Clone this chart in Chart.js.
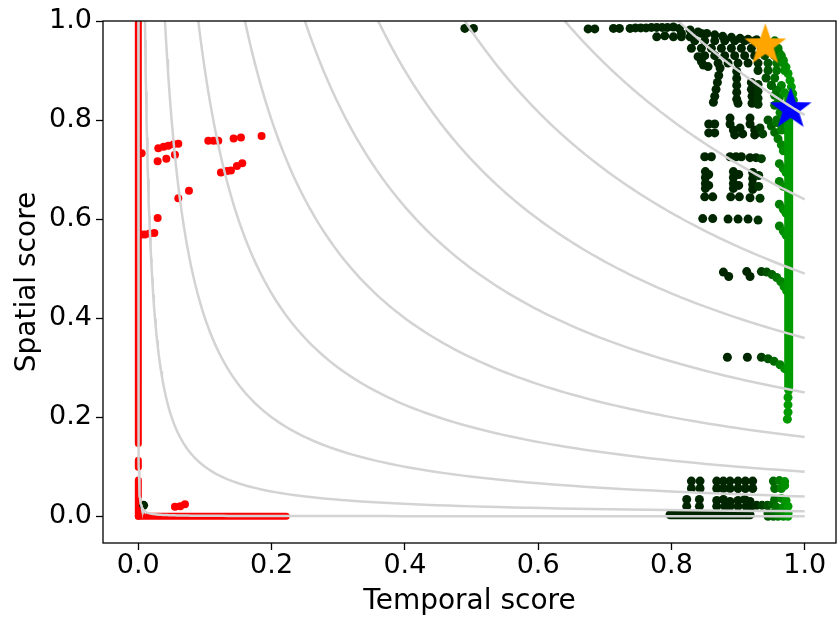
<!DOCTYPE html>
<html>
<head>
<meta charset="utf-8">
<title>Temporal vs spatial score</title>
<script src="https://cdn.jsdelivr.net/npm/chart.js"></script>
<style>
  html, body { margin: 0; background: #fff; }
  canvas { display: block; }
</style>
</head>
<body>
<canvas id="myChart" width="837" height="619"></canvas>
<script>
// axis ticks
var xTicks = [0.0, 0.2, 0.4, 0.6, 0.8, 1.0];
var yTicks = [0.0, 0.2, 0.4, 0.6, 0.8, 1.0];

// levels of the grey iso-curves (temporal * spatial = level)
var isoLevels = [0.0001, 0.01, 0.04, 0.09, 0.16, 0.25, 0.36, 0.49, 0.64, 0.81];

// red method: scattered points
var redX = [0.005, 0.030, 0.038, 0.045, 0.053, 0.060, 0.029, 0.042, 0.055, 0.105, 0.113, 0.120,
            0.143, 0.154, 0.185, 0.124, 0.133, 0.139, 0.148, 0.156, 0.076, 0.060, 0.029, 0.005,
            0.010, 0.017, 0.024, 0.055, 0.063, 0.070];
var redY = [0.733, 0.743, 0.746, 0.748, 0.751, 0.752, 0.717, 0.722, 0.730, 0.758, 0.758, 0.758,
            0.763, 0.765, 0.768, 0.694, 0.697, 0.698, 0.707, 0.713, 0.657, 0.642, 0.602, 0.569,
            0.569, 0.571, 0.572, 0.019, 0.020, 0.024];
// red method: dense runs of points along the axes (start / end)
var redRunFrom = [[0, 1.0], [0, 0.113], [0, 0.073], [0, 0]];
var redRunTo   = [[0, 0.147], [0, 0.099], [0, 0], [0.222, 0]];

// green method: points
var greenX = [
  0.490, 0.503, 0.675, 0.685, 0.713, 0.722, 0.738, 0.746, 0.754, 0.762, 0.770, 0.778, 0.786, 0.794, 0.803, 0.812,
  0.778, 0.790, 0.803, 0.815, 0.828,
  0.828, 0.840, 0.853, 0.865, 0.877, 0.890, 0.903, 0.915, 0.928, 0.940, 0.953, 0.962, 0.968, 0.972, 0.975, 0.978, 0.980, 0.982, 0.983,
  0.815, 0.830, 0.845,
  0.835, 0.850, 0.865, 0.880, 0.895, 0.910, 0.925, 0.940, 0.955,
  0.830, 0.845, 0.860, 0.875, 0.890, 0.905, 0.920, 0.935, 0.950, 0.960,
  0.850, 0.865, 0.880, 0.895, 0.910, 0.925, 0.940, 0.955, 0.965,
  0.870, 0.885, 0.900, 0.915, 0.930, 0.945, 0.958, 0.968,
  0.930, 0.945, 0.958, 0.970,
  0.955, 0.965, 0.958, 0.962, 0.955, 0.963, 0.958, 0.965, 0.950, 0.970,
  0.942, 0.950, 0.955, 0.960, 0.965, 0.968, 0.972,
  0.840, 0.845, 0.848, 0.855,
  0.873, 0.871, 0.869, 0.867, 0.865, 0.863,
  0.898, 0.898, 0.898, 0.898, 0.898, 0.900,
  0.920, 0.920, 0.921, 0.921, 0.930, 0.930, 0.930, 0.930,
  0.856, 0.865, 0.856, 0.865,
  0.888, 0.888, 0.893, 0.903, 0.907, 0.895,
  0.918, 0.918, 0.925, 0.933, 0.937, 0.925,
  0.945, 0.950, 0.955, 0.960, 0.965, 0.968, 0.958, 0.965,
  0.850, 0.860, 0.888, 0.897, 0.905, 0.918, 0.927, 0.935,
  0.851, 0.851, 0.851, 0.851, 0.856, 0.856, 0.893, 0.893, 0.893, 0.893, 0.901, 0.901,
  0.922, 0.922, 0.922, 0.922, 0.931, 0.931,
  0.850, 0.862, 0.889, 0.902, 0.918, 0.933,
  0.847, 0.862, 0.885, 0.900, 0.915, 0.930,
  0.962, 0.968, 0.972, 0.962, 0.968, 0.962, 0.968, 0.972, 0.962, 0.968, 0.972,
  0.878, 0.886, 0.913, 0.918, 0.935, 0.943, 0.951, 0.958, 0.964, 0.969, 0.973,
  0.884, 0.914, 0.935, 0.945, 0.954, 0.963, 0.970,
  0.976, 0.975, 0.975, 0.975, 0.974,
  0.830, 0.843, 0.830, 0.843, 0.868, 0.878, 0.888, 0.868, 0.878, 0.888,
  0.900, 0.911, 0.922, 0.900, 0.911, 0.922, 0.953, 0.962, 0.970, 0.955, 0.965, 0.970,
  0.823, 0.823, 0.842, 0.842, 0.868, 0.878, 0.888, 0.868, 0.880, 0.888,
  0.900, 0.910, 0.918, 0.900, 0.912, 0.920, 0.928, 0.936, 0.944, 0.952,
  0.955, 0.965, 0.972, 0.958, 0.968, 0.975,
  0.945, 0.953, 0.960, 0.968, 0.975, 0.945, 0.953, 0.960, 0.968, 0.975,
  0.008
];
var greenY = [
  0.985, 0.985, 0.984, 0.984, 0.985, 0.985, 0.985, 0.986, 0.986, 0.986, 0.987, 0.987, 0.987, 0.987, 0.988, 0.985,
  0.968, 0.970, 0.968, 0.968, 0.968,
  0.982, 0.978, 0.975, 0.972, 0.969, 0.967, 0.965, 0.963, 0.962, 0.958, 0.948, 0.935, 0.921, 0.907, 0.894, 0.880, 0.867, 0.853, 0.840,
  0.975, 0.975, 0.975,
  0.960, 0.960, 0.960, 0.960, 0.960, 0.960, 0.960, 0.960, 0.960,
  0.945, 0.945, 0.945, 0.945, 0.945, 0.945, 0.945, 0.945, 0.945, 0.945,
  0.930, 0.930, 0.930, 0.930, 0.930, 0.930, 0.930, 0.930, 0.930,
  0.915, 0.915, 0.915, 0.915, 0.915, 0.915, 0.915, 0.915,
  0.900, 0.900, 0.900, 0.900,
  0.885, 0.870, 0.860, 0.845, 0.830, 0.815, 0.800, 0.790, 0.870, 0.855,
  0.885, 0.870, 0.850, 0.835, 0.820, 0.805, 0.780,
  0.928, 0.918, 0.911, 0.908,
  0.905, 0.890, 0.876, 0.862, 0.848, 0.836,
  0.898, 0.884, 0.870, 0.856, 0.842, 0.834,
  0.876, 0.862, 0.848, 0.834, 0.872, 0.858, 0.844, 0.832,
  0.792, 0.792, 0.774, 0.774,
  0.804, 0.792, 0.780, 0.784, 0.772, 0.770,
  0.804, 0.792, 0.780, 0.784, 0.772, 0.770,
  0.800, 0.788, 0.775, 0.762, 0.750, 0.738, 0.795, 0.780,
  0.726, 0.726, 0.726, 0.726, 0.726, 0.724, 0.724, 0.722,
  0.696, 0.684, 0.672, 0.662, 0.690, 0.668, 0.696, 0.684, 0.672, 0.662, 0.690, 0.668,
  0.694, 0.682, 0.670, 0.660, 0.688, 0.666,
  0.645, 0.645, 0.645, 0.645, 0.643, 0.642,
  0.601, 0.601, 0.600, 0.600, 0.600, 0.598,
  0.712, 0.702, 0.694, 0.676, 0.666, 0.630, 0.620, 0.612, 0.586, 0.576, 0.568,
  0.493, 0.484, 0.494, 0.484, 0.494, 0.493, 0.488, 0.482, 0.474, 0.464, 0.455,
  0.321, 0.321, 0.321, 0.318, 0.313, 0.306, 0.298,
  0.255, 0.240, 0.225, 0.210, 0.196,
  0.071, 0.071, 0.056, 0.056, 0.071, 0.071, 0.071, 0.056, 0.056, 0.056,
  0.071, 0.071, 0.071, 0.056, 0.056, 0.056, 0.071, 0.072, 0.070, 0.056, 0.056, 0.062,
  0.034, 0.020, 0.034, 0.020, 0.032, 0.034, 0.030, 0.020, 0.020, 0.020,
  0.032, 0.034, 0.030, 0.020, 0.020, 0.020, 0.022, 0.022, 0.022, 0.024,
  0.034, 0.036, 0.032, 0.018, 0.018, 0.020,
  0.006, 0.006, 0.006, 0.006, 0.006, 0.000, 0.000, 0.000, 0.000, 0.000,
  0.022
];
// green method: dense runs (start / end)
var greenRunFrom = [[0.976, 0.260], [0.798, 0.003]];
var greenRunTo   = [[0.976, 0.845], [0.918, 0.003]];

// the two highlighted results
var starX = [0.941, 0.979];
var starY = [0.951, 0.822];
var starColors = ['orange', 'blue'];

function greenShade(x) {
  var t = Math.min(1, Math.max(0, (x - 0.925) / 0.05));
  return 'rgb(0,' + Math.round(38 + t * 117) + ',0)';
}

function makeStar(color, r) {
  var c = document.createElement('canvas');
  c.width = c.height = 2 * r + 2;
  var g = c.getContext('2d');
  g.beginPath();
  for (var i = 0; i < 10; i++) {
    var rad = i % 2 ? r * 0.4 : r;
    var a = -Math.PI / 2 + i * Math.PI / 5;
    g.lineTo(r + 1 + rad * Math.cos(a), r + 1 + rad * Math.sin(a));
  }
  g.closePath();
  g.fillStyle = color;
  g.fill();
  return c;
}

function toPoints(xs, ys) {
  return xs.map(function (x, i) { return {x: x, y: ys[i]}; });
}

var datasets = [];

// grey guide curves y = level / x, from the top edge to x = 1
isoLevels.forEach(function (c) {
  var pts = [];
  for (var i = 0; i <= 120; i++) {
    var x = c * Math.pow(1 / c, i / 120);
    pts.push({x: x, y: c / x});
  }
  datasets.push({data: pts, showLine: true, borderColor: '#d3d3d3', borderWidth: 2.5,
                 pointRadius: 0, order: 0});
});

starX.forEach(function (x, i) {
  datasets.push({data: [{x: x, y: starY[i]}], pointStyle: makeStar(starColors[i], 22),
                 pointRadius: 22, order: 1});
});

greenRunFrom.forEach(function (p, i) {
  var q = greenRunTo[i];
  datasets.push({data: [{x: p[0], y: p[1]}, {x: q[0], y: q[1]}], showLine: true,
                 borderColor: greenShade(q[0]), borderWidth: 9, borderCapStyle: 'round',
                 pointRadius: 0, order: 2});
});

datasets.push({
  data: toPoints(greenX, greenY),
  pointRadius: 4.5, borderWidth: 0,
  backgroundColor: function (ctx) { return ctx.raw ? greenShade(ctx.raw.x) : '#000'; },
  order: 2
});

redRunFrom.forEach(function (p, i) {
  var q = redRunTo[i];
  datasets.push({data: [{x: p[0], y: p[1]}, {x: q[0], y: q[1]}], showLine: true,
                 borderColor: 'red', borderWidth: 7, borderCapStyle: 'round',
                 pointRadius: 0, order: 3});
});

datasets.push({data: toPoints(redX, redY), pointRadius: 4, borderWidth: 0,
               backgroundColor: 'red', order: 3});

var tickFont = {family: 'DejaVu Sans', size: 27, lineHeight: 1.2};
var titleFont = {family: 'DejaVu Sans', size: 28, lineHeight: 1.2};

var framePlugin = {
  id: 'frame',
  afterDraw: function (chart) {
    var a = chart.chartArea, g = chart.ctx;
    g.save();
    g.strokeStyle = '#000';
    g.lineWidth = 1.3;
    g.strokeRect(a.left, a.top, a.right - a.left, a.bottom - a.top);
    g.restore();
  }
};

var ctx = document.getElementById('myChart').getContext('2d');
var myChart = new Chart(ctx, {
  type: 'scatter',
  data: {datasets: datasets},
  options: {
    responsive: false,
    animation: false,
    layout: {autoPadding: false, padding: {top: 21, right: 1, left: 0, bottom: 0}},
    plugins: {legend: {display: false}, tooltip: {enabled: false}},
    scales: {
      x: {
        type: 'linear', min: -0.053, max: 1.047,
        afterBuildTicks: function (s) { s.ticks = xTicks.map(function (v) { return {value: v}; }); },
        afterFit: function (s) { s.height = 76; },
        border: {display: false},
        grid: {drawOnChartArea: false, tickLength: 7, tickColor: '#000', tickWidth: 1.3},
        ticks: {color: '#000', font: tickFont, padding: 0, maxRotation: 0, autoSkip: false,
                callback: function (v) { return v.toFixed(1); }},
        title: {display: true, text: 'Temporal score', color: '#000', font: titleFont, padding: {top: 0, bottom: 0}}
      },
      y: {
        type: 'linear', min: -0.054, max: 1.0,
        afterBuildTicks: function (s) { s.ticks = yTicks.map(function (v) { return {value: v}; }); },
        afterFit: function (s) { s.width = 103; },
        border: {display: false},
        grid: {drawOnChartArea: false, tickLength: 7, tickColor: '#000', tickWidth: 1.3},
        ticks: {color: '#000', font: tickFont, padding: 4, autoSkip: false,
                callback: function (v) { return v.toFixed(1); }},
        title: {display: true, text: 'Spatial score', color: '#000', font: titleFont, padding: {top: 11, bottom: 0}}
      }
    }
  },
  plugins: [framePlugin]
});
</script>
</body>
</html>
